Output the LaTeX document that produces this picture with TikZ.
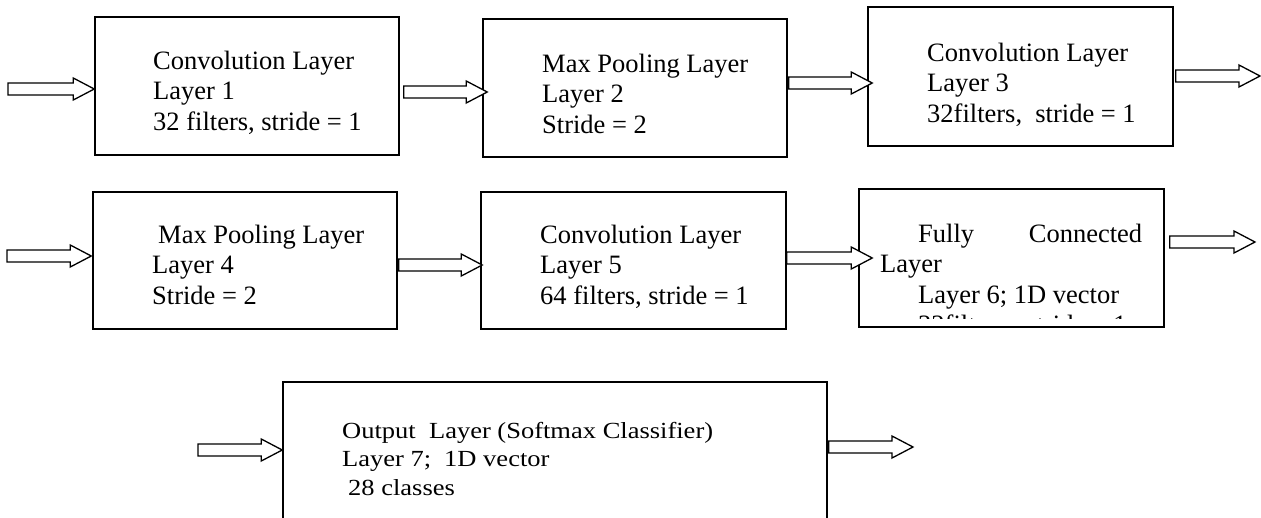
\documentclass[tikz,border=0pt]{standalone}
\usepackage{fontspec}
\setmainfont{Liberation Serif}
\usetikzlibrary{calc}
\tikzset{
  layerbox/.style={draw, line width=1.5pt, inner sep=0pt},
  layertext/.style={anchor=north west, inner sep=0pt, align=left,
    font=\fontsize{26.5}{30.5}\selectfont},
  barrow/.style={draw, line width=1.3pt, fill=white, line join=miter}
}
% #1 start point, #2 end point, #3 y (px), #4 start shift, #5 end shift
\newcommand\blockarrow[5]{%
  \draw[barrow] let \p1=(#1), \p2=(#2), \p3=(0,#3) in
    (\x1+#4pt,\y3+6pt) -- (\x2+#5pt-21pt,\y3+6pt) -- (\x2+#5pt-21pt,\y3+11pt)
    -- (\x2+#5pt,\y3) -- (\x2+#5pt-21pt,\y3-11pt) -- (\x2+#5pt-21pt,\y3-6pt)
    -- (\x1+#4pt,\y3-6pt) -- cycle;}
\begin{document}
\begin{tikzpicture}[x=1pt,y=-1pt]
\useasboundingbox (0,0) rectangle (1261,517);
\clip (0,0) rectangle (1261,517);
\fill[white] (0,0) rectangle (1261,517);

% boxes
\node[layerbox, minimum width=304pt, minimum height=138pt] (b1) at (247,86) {};
\node[layerbox, minimum width=304pt, minimum height=138pt] (b2) at (635,88) {};
\node[layerbox, minimum width=305pt, minimum height=139pt] (b3) at (1020.5,76.5) {};
\node[layerbox, minimum width=304pt, minimum height=137pt] (b4) at (245,260.5) {};
\node[layerbox, minimum width=305pt, minimum height=137pt] (b5) at (633.5,260.5) {};
\node[layerbox, minimum width=305pt, minimum height=138pt] (b6) at (1011.5,258) {};
\node[layerbox, minimum width=544pt, minimum height=180pt] (b7) at (555,472) {};

% texts
\node[layertext] (t1) at (153,47.6)
  {\strut Convolution Layer\\\strut Layer 1\\\strut 32 filters, stride = 1};
\node[layertext] (t2) at (542,50.6)
  {\strut Max Pooling Layer\\\strut Layer 2\\\strut Stride = 2};
\node[layertext] (t3) at (927,39.6)
  {\strut Convolution Layer\\\strut Layer 3\\\strut 32filters,\ \ stride = 1};
\node[layertext] (t4) at (152,221.6)
  {\strut\hspace{6pt}Max Pooling Layer\\\strut Layer 4\\\strut Stride = 2};
\node[layertext] (t5) at (540,221.6)
  {\strut Convolution Layer\\\strut Layer 5\\\strut 64 filters, stride = 1};
\begin{scope}
  \clip (859,189) rectangle (1164,318);
  \node[layertext] (t6) at (880,220.6)
    {\strut\hspace{38pt}\hbox to 224pt{Fully\hfill Connected}\\
     \strut Layer\\
     \strut\hspace{38pt}Layer 6; 1D vector\\
     \strut\hspace{38pt}32filters,\ \ stride = 1};
\end{scope}
\node[layertext, font=\fontsize{26.5}{33}\selectfont, yscale=0.87, transform shape] (t7) at (342,417.9)
  {\strut Output\ \ Layer (Softmax Classifier)\\
   \strut Layer 7;\hspace{13pt}1D vector\\
   \strut\hspace{6pt}28 classes};

% free ends
\coordinate (in1) at (8,89);
\coordinate (o3) at (1260,76);
\coordinate (in4) at (7,256);
\coordinate (o6) at (1255,242);
\coordinate (in7) at (198,450);
\coordinate (o7) at (913,447);

% block arrows
\blockarrow{in1}{b1.west}{89}{0}{0}
\blockarrow{b1.east}{b2.west}{92}{4}{5}
\blockarrow{b2.east}{b3.west}{83}{1}{5}
\blockarrow{b3.east}{o3}{76}{2}{0}
\blockarrow{in4}{b4.west}{256}{0}{-1}
\blockarrow{b4.east}{b5.west}{265}{1}{2}
\blockarrow{b5.east}{b6.west}{258}{0}{14}
\blockarrow{b6.east}{o6}{242}{5}{0}
\blockarrow{in7}{b7.west}{450}{0}{0}
\blockarrow{b7.east}{o7}{447}{1}{0}
\end{tikzpicture}
\end{document}
